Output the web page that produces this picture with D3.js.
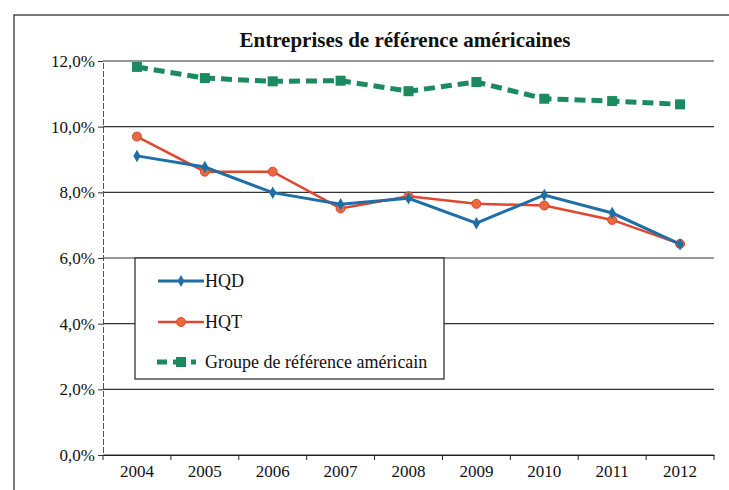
<!DOCTYPE html>
<html>
<head>
<meta charset="utf-8">
<script src="https://cdn.jsdelivr.net/npm/d3@7"></script>
<style>
  body { margin: 0; background: #fff; }
  text { font-family: "Liberation Serif", "DejaVu Serif", serif; fill: #111; }
</style>
</head>
<body>
<div id="chart"></div>
<script>
// data
var years = ["2004", "2005", "2006", "2007", "2008", "2009", "2010", "2011", "2012"];
var hqd = [9.11, 8.77, 7.99, 7.64, 7.82, 7.06, 7.92, 7.37, 6.42];
var hqt = [9.70, 8.63, 8.63, 7.51, 7.88, 7.65, 7.60, 7.16, 6.43];
var groupe = [11.82, 11.48, 11.38, 11.40, 11.08, 11.36, 10.85, 10.78, 10.68];
var yTicks = [0, 2, 4, 6, 8, 10, 12];
var seriesNames = ["HQD", "HQT", "Groupe de référence américain"];

var width = 729, height = 490;
var margin = {top: 61, right: 15, bottom: 35, left: 103};

var svg = d3.select("#chart")
    .append("svg")
    .attr("width", width)
    .attr("height", height);

// outer frame (runs off the right and bottom like the scan)
svg.append("rect")
    .attr("x", 14).attr("y", 15)
    .attr("width", 740).attr("height", 500)
    .attr("fill", "none")
    .attr("stroke", "#222")
    .attr("stroke-width", 1.2);

var x = d3.scaleBand()
    .domain(years)
    .range([margin.left, width - margin.right]);

var y = d3.scaleLinear()
    .domain([0, 12])
    .range([height - margin.bottom, margin.top]);

// gridlines
svg.append("g")
    .selectAll("line")
    .data(yTicks)
    .join("line")
        .attr("x1", margin.left)
        .attr("x2", width - margin.right)
        .attr("y1", function(d) { return y(d); })
        .attr("y2", function(d) { return y(d); })
        .attr("stroke", "#333")
        .attr("stroke-width", 1.1);

// y axis
var yAxis = svg.append("g")
    .attr("transform", "translate(" + margin.left + ",0)")
    .call(d3.axisLeft(y)
        .tickValues(yTicks)
        .tickSize(5)
        .tickFormat(function(d) { return d3.format(".1f")(d).replace(".", ",") + "%"; }))
    .attr("font-family", "Liberation Serif")
    .attr("font-size", 17);
yAxis.select(".domain").attr("stroke", "#555").attr("stroke-dasharray", "6,2");
yAxis.selectAll("line").attr("stroke", "#333");
yAxis.selectAll("text")
    .attr("x", -8)
    .attr("fill", "#111");

// x axis
var xAxis = svg.append("g")
    .attr("transform", "translate(0," + y(0) + ")")
    .call(d3.axisBottom(x).tickSize(0).tickPadding(10))
    .attr("font-family", "Liberation Serif")
    .attr("font-size", 17);
xAxis.select(".domain").attr("stroke", "#222").attr("stroke-width", 1.2);
xAxis.selectAll("text").attr("fill", "#111");
// tick marks at category boundaries
svg.append("g")
    .selectAll("line")
    .data(years.concat(["end"]))
    .join("line")
        .attr("x1", function(d, i) { return margin.left + i * x.bandwidth(); })
        .attr("x2", function(d, i) { return margin.left + i * x.bandwidth(); })
        .attr("y1", y(0))
        .attr("y2", y(0) + 5)
        .attr("stroke", "#222");

var cx = function(d, i) { return x(years[i]) + x.bandwidth() / 2; };
var line = d3.line()
    .x(cx)
    .y(function(d) { return y(d); });

// groupe de référence (dashed green, squares)
svg.append("path")
    .datum(groupe)
    .attr("d", line)
    .attr("fill", "none")
    .attr("stroke", "#1b8a5e")
    .attr("stroke-width", 5)
    .attr("stroke-dasharray", "11,6");
svg.append("g")
    .selectAll("rect")
    .data(groupe)
    .join("rect")
        .attr("x", function(d, i) { return cx(d, i) - 5; })
        .attr("y", function(d) { return y(d) - 5; })
        .attr("width", 10)
        .attr("height", 10)
        .attr("fill", "#1b8a5e");

// HQT (red, circles)
svg.append("path")
    .datum(hqt)
    .attr("d", line)
    .attr("fill", "none")
    .attr("stroke", "#e0472e")
    .attr("stroke-width", 2.5);
svg.append("g")
    .selectAll("circle")
    .data(hqt)
    .join("circle")
        .attr("cx", cx)
        .attr("cy", function(d) { return y(d); })
        .attr("r", 4.5)
        .attr("fill", "#ea6a3e")
        .attr("stroke", "#d9442c");

// HQD (blue, diamonds)
svg.append("path")
    .datum(hqd)
    .attr("d", line)
    .attr("fill", "none")
    .attr("stroke", "#1f6ea6")
    .attr("stroke-width", 3);
svg.append("g")
    .selectAll("path")
    .data(hqd)
    .join("path")
        .attr("transform", function(d, i) { return "translate(" + cx(d, i) + "," + y(d) + ")"; })
        .attr("d", d3.symbol().type(d3.symbolDiamond).size(45))
        .attr("fill", "#1f6ea6");

// title
svg.append("text")
    .attr("x", 405)
    .attr("y", 47)
    .attr("text-anchor", "middle")
    .style("font-size", "21px")
    .style("font-weight", "bold")
    .text("Entreprises de référence américaines");

// legend
var legend = svg.append("g");
legend.append("rect")
    .attr("x", 135).attr("y", 258)
    .attr("width", 309).attr("height", 121)
    .attr("fill", "#fff")
    .attr("stroke", "#222")
    .attr("stroke-width", 1.2);

var legendY = [281, 322, 362];
var colors = ["#1f6ea6", "#e0472e", "#1b8a5e"];
legendY.forEach(function(ly, i) {
    if (i < 2) {
        legend.append("line")
            .attr("x1", 158).attr("x2", 204)
            .attr("y1", ly).attr("y2", ly)
            .attr("stroke", colors[i])
            .attr("stroke-width", i === 0 ? 3 : 2.5);
    } else {
        legend.append("line")
            .attr("x1", 157).attr("x2", 204)
            .attr("y1", ly).attr("y2", ly)
            .attr("stroke", colors[i])
            .attr("stroke-width", 5)
            .attr("stroke-dasharray", "10,6,10,8,5,10");
    }
    if (i === 0) {
        legend.append("path")
            .attr("transform", "translate(181," + ly + ")")
            .attr("d", d3.symbol().type(d3.symbolDiamond).size(40))
            .attr("fill", colors[i]);
    } else if (i === 1) {
        legend.append("circle")
            .attr("cx", 181).attr("cy", ly).attr("r", 4.5)
            .attr("fill", "#ea6a3e").attr("stroke", colors[i]);
    } else {
        legend.append("rect")
            .attr("x", 176).attr("y", ly - 5)
            .attr("width", 10).attr("height", 10)
            .attr("fill", colors[i]);
    }
    legend.append("text")
        .attr("x", 205)
        .attr("y", ly + 6)
        .style("font-size", "18px")
        .text(seriesNames[i]);
});
</script>
</body>
</html>
